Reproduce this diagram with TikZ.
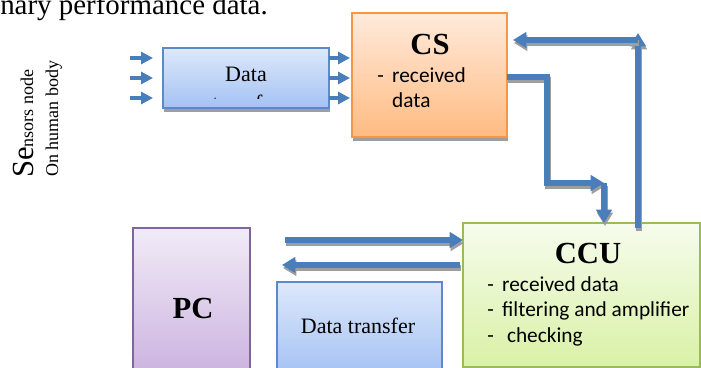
\documentclass[tikz,border=0pt]{standalone}
\usepackage{fontspec}
\setmainfont{Liberation Serif}
\newfontfamily\calibri{Carlito}
\usetikzlibrary{arrows.meta,calc,shadows}

\definecolor{flowblue}{HTML}{4A7EBB}
\definecolor{shadowgray}{HTML}{9E9E9E}
\definecolor{databorder}{HTML}{5A8AC9}
\definecolor{datatopc}{HTML}{DDE8FA}
\definecolor{databotc}{HTML}{A4C2F4}
\definecolor{csborder}{HTML}{F79646}
\definecolor{cstopc}{HTML}{FFEADB}
\definecolor{csbotc}{HTML}{FFBB82}
\definecolor{ccuborder}{HTML}{9BBB59}
\definecolor{ccutopc}{HTML}{F6FCEC}
\definecolor{ccubotc}{HTML}{D9F1A6}
\definecolor{pcborder}{HTML}{8064A2}
\definecolor{pctopc}{HTML}{F1EBF7}
\definecolor{pcbotc}{HTML}{CBB3DF}

% thick arrow with its grey shadow under it
\newcommand\flowline[1]{\draw[flowshade] #1; \draw[flow] #1;}

\begin{document}
\begin{tikzpicture}[x=0.75pt, y=-0.75pt,
    box/.style={draw, line width=1.1pt, inner sep=0pt, outer sep=0pt},
    databox/.style={box, draw=databorder, top color=datatopc, bottom color=databotc},
    boxshadow/.style={drop shadow={shadow xshift=0.75pt, shadow yshift=-3pt, fill=shadowgray, opacity=1}},
    flow/.style={draw=flowblue, line width=3.9pt, -{Triangle[length=10pt,width=11.5pt]}},
    flowshade/.style={flow, draw=shadowgray, transform canvas={shift={(1,3)}}},
    feed/.style={draw=flowblue, line width=2.6pt, -{Triangle[length=9pt,width=9pt]}},
    bullets/.style={font=\calibri\fontsize{16}{19.3}\selectfont, inner sep=0pt, anchor=base west},
    title/.style={font=\bfseries\fontsize{23}{27}\selectfont, inner sep=0pt, anchor=base},
    plain/.style={font=\fontsize{16.5}{21.75}\selectfont, inner sep=0pt, anchor=base}]
    \useasboundingbox (0,0) rectangle (701,368);

    % page text and sensors label
    \node[inner sep=0pt, anchor=base west, font=\fontsize{21.7}{26}\selectfont] (pagetxt) at (0,14.5) {nary performance data.};
    \node[inner sep=0pt, anchor=base west, rotate=90] (sensors) at (33,178)
        {{\fontsize{23}{27}\selectfont Se}{\fontsize{13.5}{16}\selectfont nsors node}};
    \node[inner sep=0pt, anchor=base west, rotate=90, font=\fontsize{13.5}{16}\selectfont] (body) at (58,177) {On human body};

    % blocks
    \node[databox, boxshadow, minimum width=124.5pt, minimum height=45pt] (datatop) at (246,78) {};
    \node[box, boxshadow, draw=csborder, top color=cstopc, bottom color=csbotc,
        minimum width=116.25pt, minimum height=93pt] (cs) at (429.5,75) {};
    \node[box, draw=ccuborder, top color=ccutopc, bottom color=ccubotc,
        minimum width=177.75pt, minimum height=108pt] (ccu) at (581.5,295) {};
    \node[box, draw=pcborder, top color=pctopc, bottom color=pcbotc,
        minimum width=87.75pt, minimum height=110.25pt] (pc) at (191.5,301.5) {};
    \node[databox, minimum width=123.75pt, minimum height=69.75pt] (dtrans) at (359.5,328.5) {};

    % block texts
    \begin{scope}
        \clip (datatop.north west) rectangle ($(datatop.south east)+(0,-10)$);
        \node[plain, align=center] (dtxt) at (246,110) {Data\\transfer};
    \end{scope}
    \node[title] (cstitle) at (430,54) {CS};
    \node[bullets] (cslist) at (377,82)
        {\begin{tabular}[t]{@{}l@{\hspace{6.3pt}}l@{}}- & received\\ & data\end{tabular}};
    \node[title] (ccutitle) at (588,263) {CCU};
    \node[bullets] (cculist) at (487,291)
        {\begin{tabular}[t]{@{}l@{\hspace{6.3pt}}l@{}}- & received data\\ - & filtering and amplifier\\ - & \ checking\end{tabular}};
    \node[title] (pctitle) at (193,318) {PC};
    \node[plain] (dtranstxt) at (358,333) {Data transfer};

    % sensor inputs and outputs
    \foreach \dy in {-20,0,20} \draw[feed] ($(datatop.west)+(-33,\dy)$) -- ($(datatop.west)+(-10,\dy)$);
    \foreach \dy in {-20,0,20} \draw[feed] ($(datatop.east)+(0,\dy)$) -- ($(datatop.east -| cs.west)+(-2,\dy)$);

    % CS <-> CCU
    \coordinate (split) at (604,183);
    \flowline{($(cs.east)+(0,2)$) -- ++(40,0) |- (split)}
    \flowline{(split) -- (split |- ccu.north)}
    \coordinate (back) at (638,40);
    \flowline{($(back |- ccu.north)+(0,5)$) -- ($(back)+(0,-7)$)}
    \flowline{(back) -- ($(back -| cs.east)+(6,0)$)}

    % PC <-> CCU
    \coordinate (pcout) at (285,240);
    \flowline{(pcout) -- (pcout -| ccu.west)}
    \coordinate (ccuout) at (460,265);
    \flowline{(ccuout) -- ($(ccuout -| dtrans.west)+(5,0)$)}
\end{tikzpicture}
\end{document}
